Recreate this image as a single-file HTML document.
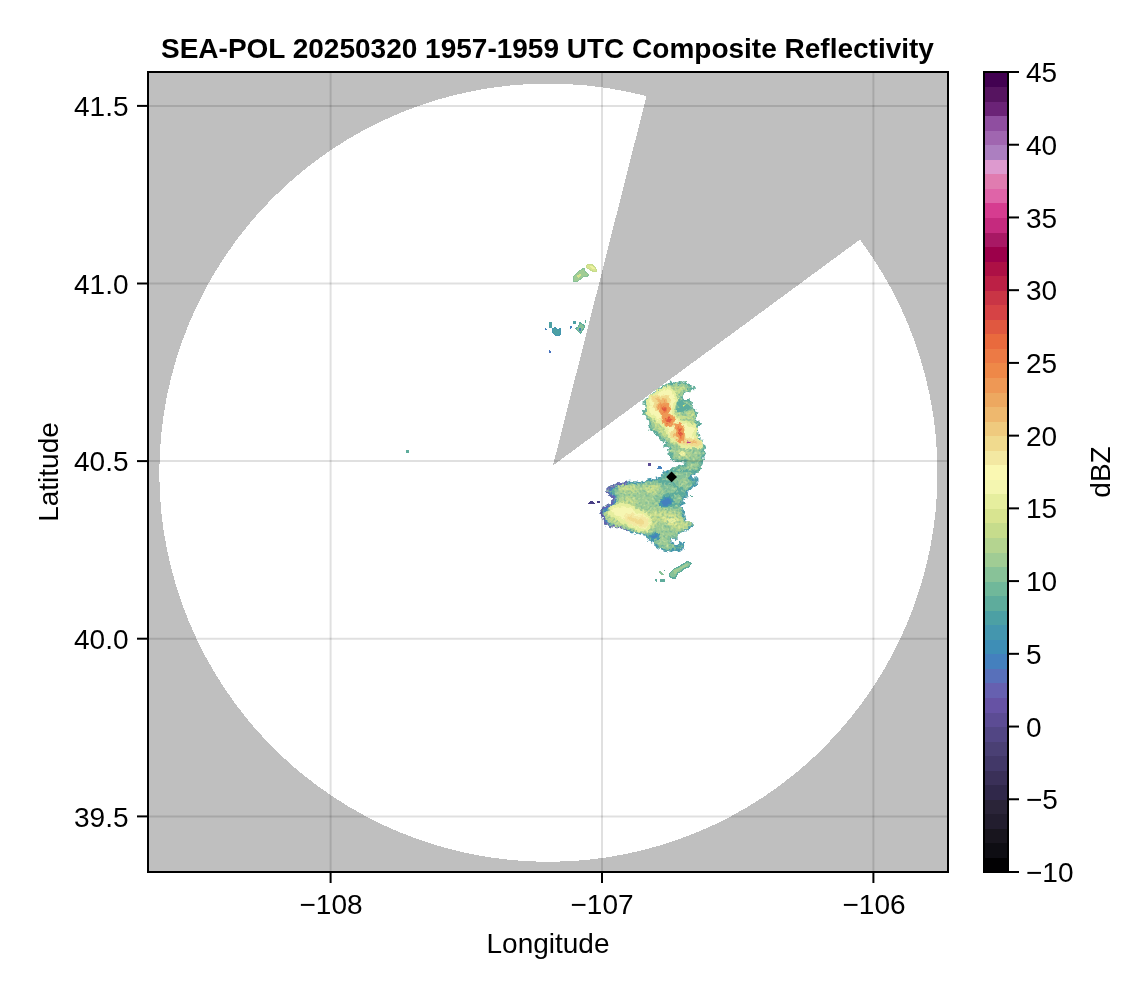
<!DOCTYPE html>
<html><head><meta charset="utf-8">
<style>
html,body{margin:0;padding:0;background:#fff;}
body{width:1146px;height:990px;position:relative;overflow:hidden;font-family:"Liberation Sans",sans-serif;color:#000;}
.t{position:absolute;white-space:nowrap;line-height:1;font-size:28px;will-change:transform;}
svg{position:absolute;left:0;top:0;}
</style></head><body>
<svg width="1146" height="990" viewBox="0 0 1146 990">
<defs>
<clipPath id="pc"><rect x="148" y="72" width="800" height="800"/></clipPath>
<filter id="nz" filterUnits="userSpaceOnUse" x="535" y="255" width="195" height="340" color-interpolation-filters="sRGB"><feTurbulence type="fractalNoise" baseFrequency="0.32" numOctaves="2" seed="4" result="n"/><feDisplacementMap in="SourceGraphic" in2="n" scale="5.5" xChannelSelector="R" yChannelSelector="G" result="d"/><feTurbulence type="fractalNoise" baseFrequency="0.42" numOctaves="1" seed="11" result="m"/><feColorMatrix in="m" type="matrix" values="0 0 0 0 0.33  0 0 0 0 0.65  0 0 0 0 0.62  1.9 0 0 0 -0.92" result="mm"/><feComposite in="mm" in2="d" operator="in" result="mc"/><feColorMatrix in="m" type="matrix" values="0 0 0 0 0.93  0 0 0 0 0.96  0 0 0 0 0.66  0 1.8 0 0 -0.93" result="ll"/><feComposite in="ll" in2="d" operator="in" result="lc"/><feMerge><feMergeNode in="d"/><feMergeNode in="mc"/><feMergeNode in="lc"/></feMerge></filter>
<filter id="nz2" filterUnits="userSpaceOnUse" x="535" y="255" width="195" height="340" color-interpolation-filters="sRGB"><feTurbulence type="fractalNoise" baseFrequency="0.32" numOctaves="2" seed="4" result="n"/><feDisplacementMap in="SourceGraphic" in2="n" scale="5" xChannelSelector="R" yChannelSelector="G"/></filter>
</defs>
<!-- plot background gray -->
<rect x="148" y="72" width="800" height="800" fill="#bfbfbf"/>
<g clip-path="url(#pc)" shape-rendering="crispEdges">
<!-- white coverage: circle minus wedge -->
<circle cx="548.4" cy="472.7" r="389.1" fill="#fff"/>
<path fill="#bfbfbf" d="M553,465.4 L693.3,-88.7 L1300,-88.7 L1163,16.6 Z"/>
</g>
<g id="echo" clip-path="url(#pc)">
<g filter="url(#nz)">
<path d="M687.5,458.5 L684.7,464.9 L679.0,467.7 L670.5,470.5 L663.5,472.6 L660.6,477.6 L655.0,479.0 L647.9,480.4 L642.2,483.2 L636.6,482.5 L629.5,481.8 L622.4,483.9 L616.8,484.7 L610.4,486.8 L607.6,488.9 L607.6,492.4 L610.4,495.3 L613.9,498.1 L613.2,501.6 L610.4,504.5 L606.2,506.6 L602.6,508.7 L601.2,512.2 L603.3,516.5 L604.8,520.7 L606.2,524.3 L610.4,525.7 L615.4,527.1 L622.4,527.1 L628.1,529.9 L633.7,532.0 L640.8,533.5 L646.5,534.9 L647.9,539.1 L652.1,540.5 L655.0,544.8 L659.2,547.6 L664.9,549.7 L670.5,551.1 L676.2,549.0 L682.5,549.7 L683.3,544.1 L681.1,542.6 L679.0,546.2 L674.8,545.5 L670.5,541.9 L670.5,538.4 L674.1,537.7 L676.9,539.8 L676.2,534.9 L679.0,532.0 L684.7,530.6 L688.9,527.8 L693.2,524.3 L688.9,522.8 L684.7,520.7 L683.3,516.5 L684.0,512.2 L681.1,508.0 L679.7,504.5 L684.7,503.0 L681.1,501.6 L683.3,498.1 L687.5,495.3 L686.1,491.7 L690.3,488.9 L693.2,485.4 L696.7,483.9 L696.3,478.3 L693.2,480.4 L690.3,478.3 L693.2,474.0 L697.4,471.2 L700.2,465.6 L701.6,458.5 L704.5,452.8 L701.6,448.6 L670.5,448.6 L671.9,458.5Z" fill="#5EAC9C" stroke="#4496AE" stroke-width="2" stroke-linejoin="round"/>
<path d="M626.7,482.8 L622.4,483.9 L616.8,484.7 L610.4,486.8 L607.6,488.9 L607.6,492.4 L610.4,495.3 L613.9,498.1 L613.2,501.6 L610.4,504.5 L606.2,506.6 L602.6,508.7 L601.2,512.2 L603.3,516.5 L604.8,520.7 L606.2,524.3 L610.4,525.7 L615.4,527.1 L622.4,527.1 L628.1,529.9" fill="none" stroke="#6660B0" stroke-width="2.2"/>
<path d="M626.7,484.5 L622.4,485.6 L617.1,486.5 L611.8,488.5 L609.7,490.3 L610.0,492.1 L612.8,495.0 L616.1,498.1 L615.4,502.1 L611.8,505.4 L607.6,507.7 L604.3,510.1 L603.3,512.2 L605.2,516.5 L606.6,520.7 L608.0,522.8 L611.1,524.0 L615.4,525.2 L622.4,525.4" fill="none" stroke="#4480BE" stroke-width="2"/>
<path d="M615.4,490.3 L622.4,487.1 L629.5,484.7 L639.4,485.4 L647.9,483.2 L656.4,481.8 L662.0,485.4 L664.9,492.4 L660.6,496.7 L659.2,502.3 L664.9,509.4 L673.4,508.0 L679.0,506.6 L681.1,512.2 L682.5,520.7 L690.3,523.6 L684.7,529.2 L677.6,531.3 L674.8,536.3 L669.1,537.7 L669.1,543.4 L673.4,547.6 L667.7,549.0 L660.6,546.2 L655.0,541.9 L659.2,534.9 L650.7,533.5 L643.6,532.7 L636.6,531.3 L628.1,528.5 L621.0,525.7 L612.5,524.3 L608.3,519.3 L606.2,512.9 L611.1,508.0 L616.8,504.5 L618.2,496.7Z" fill="#A0CC94" stroke="#88C298" stroke-width="2.5" stroke-linejoin="round"/>
<path d="M671.9,472.6 L681.8,468.4 L691.7,465.6 L696.0,458.5 L700.2,454.2 L697.4,464.1 L693.2,471.2 L688.9,478.3 L691.7,485.4 L684.7,491.0 L679.0,485.4 L673.4,482.5 L670.5,478.3Z" fill="#88C298"/>
<path d="M679.0,480.4 L684.7,478.3 L688.9,482.5 L686.1,486.8 L681.1,486.1Z" fill="#A0CC94"/>
<path d="M687.5,454.2 L693.2,451.4 L698.8,452.8 L697.4,458.5 L691.7,459.9Z" fill="#A0CC94"/>
<path d="M608.3,509.4 L616.8,503.7 L625.3,496.7 L633.7,498.1 L636.6,502.3 L632.3,506.6 L639.4,509.4 L647.9,512.2 L659.2,509.4 L667.7,510.8 L679.0,513.6 L683.3,520.7 L690.3,523.6 L684.7,529.2 L677.6,530.6 L670.5,526.4 L664.9,520.7 L656.4,523.6 L652.1,529.2 L646.5,532.0 L636.6,530.6 L626.7,527.1 L616.8,525.0 L608.3,520.7 L604.8,515.1Z" fill="#C6DC8C" stroke="#B4D490" stroke-width="2.5" stroke-linejoin="round"/>
<path d="M618.2,486.8 L626.7,485.1 L636.6,486.8 L638.0,491.0 L629.5,492.4 L621.0,491.0Z" fill="#C6DC8C" stroke="#B4D490" stroke-width="2" stroke-linejoin="round"/>
<path d="M643.6,486.8 L653.6,483.7 L659.2,486.8 L656.4,492.4 L647.9,493.8Z" fill="#C6DC8C" stroke="#B4D490" stroke-width="2" stroke-linejoin="round"/>
<path d="M664.9,517.9 L671.9,516.5 L677.6,519.3 L676.2,523.6 L669.1,523.6 L664.9,520.7Z" fill="#E6EE9E" stroke="#D8E490" stroke-width="3" stroke-linejoin="round"/>
<path d="M679.0,450.7 L684.7,450.0 L687.5,452.8 L684.7,455.7 L679.7,455.0Z" fill="#F6F6B2" stroke="#E6EE9E" stroke-width="3" stroke-linejoin="round"/>
<path d="M664.9,475.5 L671.9,473.3 L676.2,476.2 L673.4,480.4 L666.3,480.4Z" fill="#88C298"/>
<path d="M663.5,485.4 L670.5,483.9 L676.2,488.2 L673.4,493.8 L666.3,492.4Z" fill="#88C298"/>
<path d="M673.4,496.7 L679.0,493.8 L681.8,498.1 L679.0,503.7 L674.1,502.3Z" fill="#88C298"/>
<path d="M653.6,496.7 L659.2,495.3 L660.6,499.5 L656.4,502.3Z" fill="#88C298"/>
<path d="M643.7,401.3 L646.3,398.8 L652.3,395.3 L655.4,391.7 L660.4,388.7 L663.4,386.2 L668.5,384.1 L670.5,382.6 L676.6,384.1 L679.6,382.1 L681.6,383.1 L684.6,382.1 L686.7,383.6 L690.7,386.2 L693.7,388.2 L692.2,389.7 L689.7,391.2 L687.7,389.7 L684.6,391.7 L681.6,395.3 L680.6,397.8 L683.1,399.8 L688.7,400.3 L690.7,402.3 L691.9,405.4 L690.2,407.9 L694.7,410.4 L695.8,412.4 L697.0,414.4 L695.3,416.0 L694.7,418.5 L695.8,420.5 L697.3,422.0 L700.0,423.0 L698.3,425.1 L696.8,426.6 L696.5,430.6 L697.8,433.6 L698.3,435.2 L696.8,437.2 L697.3,439.2 L700.8,439.2 L701.6,440.7 L701.3,444.2 L704.6,446.3 L704.3,448.3 L702.8,450.8 L704.0,453.3 L702.3,456.9 L702.0,461.4 L700.8,464.9 L699.8,467.5 L697.8,471.0 L669.5,471.0 L672.5,468.5 L676.6,467.5 L680.6,466.5 L684.6,464.9 L686.7,462.4 L684.6,461.4 L676.6,460.9 L672.5,459.4 L671.5,456.9 L669.5,453.8 L670.0,450.8 L668.5,447.8 L665.5,445.3 L667.0,443.7 L666.5,439.7 L664.4,438.7 L662.9,441.2 L660.9,439.7 L660.4,436.7 L657.4,434.6 L654.3,431.6 L650.8,429.6 L649.8,428.1 L650.3,425.1 L650.3,421.5 L647.8,419.0 L646.3,417.0 L644.2,414.4 L643.2,411.9 L646.3,409.9 L645.8,407.4 L644.7,403.3Z" fill="#88C298" stroke="#5EAC9C" stroke-width="2.2" stroke-linejoin="round"/>
<path d="M647.3,402.3 L653.3,396.8 L660.4,390.7 L667.5,386.2 L672.5,385.2 L680.6,385.2 L688.7,387.2 L684.6,390.2 L679.6,395.3 L676.6,400.3 L675.1,405.4 L676.6,412.4 L684.6,414.4 L692.7,413.4 L693.7,417.5 L694.7,422.5 L695.3,430.6 L695.8,438.7 L699.8,440.7 L700.8,445.8 L699.8,448.3 L690.7,449.3 L680.6,448.3 L674.5,445.8 L670.5,442.7 L668.5,440.7 L663.4,436.7 L659.4,432.6 L654.3,428.6 L652.3,422.5 L649.3,416.5 L646.8,412.4 L648.3,408.4Z" fill="#C6DC8C" stroke="#A0CC94" stroke-width="2.5" stroke-linejoin="round"/>
<path d="M670.5,447.8 L680.6,449.8 L690.7,450.3 L699.8,449.8 L700.8,453.8 L698.8,458.9 L692.7,460.9 L684.6,459.9 L676.6,458.9 L673.0,454.8Z" fill="#A0CC94"/>
<path d="M676.6,450.8 L684.6,451.3 L690.7,452.8 L689.7,456.9 L682.6,457.9 L677.6,455.9Z" fill="#B4D490"/>
<path d="M690.7,463.9 L696.8,462.4 L699.3,464.4 L696.8,468.5 L690.7,469.5 L684.6,468.5Z" fill="#A0CC94"/>
<path d="M686.7,412.4 L692.7,410.9 L695.3,414.4 L692.7,417.5 L687.7,417.0Z" fill="#C6DC8C" stroke="#B4D490" stroke-width="2" stroke-linejoin="round"/>
</g >
<g filter="url(#nz2)">
<path d="M611.4,507.3 L622.4,504.5 L630.2,505.9 L637.3,511.5 L644.4,512.9 L649.0,517.6 L650.4,523.8 L647.2,530.1 L639.4,530.1 L630.6,526.1 L624.6,521.9 L616.1,517.6 L609.4,512.9Z" fill="#F6F6B2" stroke="#E6EE9E" stroke-width="3" stroke-linejoin="round"/>
<path d="M625.3,516.5 L630.9,514.4 L636.6,517.9 L642.2,516.5 L646.5,520.7 L646.5,525.0 L640.8,526.4 L633.7,523.6 L626.7,520.7Z" fill="#F0DA8E" stroke="#F3E8A2" stroke-width="3" stroke-linejoin="round"/>
<path d="M660.6,501.6 L664.9,498.1 L670.5,497.4 L672.6,501.6 L670.5,504.5 L664.9,507.3 L661.3,505.9Z" fill="#4480BE" stroke="#4496AE" stroke-width="2" stroke-linejoin="round"/>
<path d="M650.7,535.6 L656.4,532.7 L658.5,534.9 L657.8,537.7 L652.8,539.4Z" fill="#4480BE" stroke="#4496AE" stroke-width="2" stroke-linejoin="round"/>
<path d="M649.3,397.3 L653.3,395.3 L660.4,390.2 L667.5,387.2 L672.5,390.2 L675.1,395.3 L676.6,400.3 L674.5,404.3 L672.5,410.4 L674.5,415.5 L676.6,418.5 L682.6,421.5 L690.7,424.5 L694.7,426.6 L695.8,430.6 L693.7,434.6 L696.8,438.7 L700.8,442.7 L701.8,445.8 L697.8,446.8 L690.7,446.8 L685.7,447.8 L680.6,444.7 L676.6,440.7 L670.5,438.7 L667.5,432.6 L665.5,426.6 L660.4,422.5 L655.4,418.5 L649.3,414.4 L647.3,410.4 L649.3,405.4 L647.3,401.3Z" fill="#F6F6B2" stroke="#E6EE9E" stroke-width="3" stroke-linejoin="round"/>
<path d="M652.3,396.3 L660.4,397.3 L667.5,396.8 L668.5,400.3 L669.5,405.4 L668.5,412.4 L672.5,417.5 L673.5,422.5 L678.6,424.5 L682.6,428.6 L683.6,434.6 L684.6,439.7 L690.7,439.7 L695.8,439.7 L699.8,443.7 L696.8,445.3 L690.7,443.7 L684.6,444.7 L680.6,442.7 L677.6,438.7 L671.5,436.7 L671.5,433.6 L674.5,431.6 L676.6,426.6 L670.5,424.5 L665.5,422.5 L661.4,420.5 L662.4,415.5 L660.4,410.4 L655.4,408.4 L654.3,404.3 L657.4,402.3 L653.3,399.3Z" fill="#EEB86E" stroke="#F0DA8E" stroke-width="3" stroke-linejoin="round"/>
<path d="M659.9,405.4 L666.0,403.8 L669.0,408.4 L667.5,413.9 L662.9,414.4 L659.9,410.4Z" fill="#EC7A45" stroke="#EE9855" stroke-width="3" stroke-linejoin="round"/>
<path d="M662.4,407.9 L665.5,407.2 L666.3,409.9 L664.4,411.6 L662.4,410.4Z" fill="#E05840"/>
<path d="M663.4,417.0 L668.5,414.9 L673.5,418.5 L672.5,423.5 L667.5,425.1 L663.4,421.5Z" fill="#EC7A45" stroke="#EE9855" stroke-width="3" stroke-linejoin="round"/>
<path d="M666.0,418.5 L669.5,417.5 L671.0,420.0 L669.5,422.5 L666.7,422.0Z" fill="#E05840"/>
<path d="M675.6,424.0 L681.1,425.6 L683.4,432.6 L682.8,439.7 L679.4,440.7 L677.8,434.6 L676.4,429.6Z" fill="#EC7A45" stroke="#EE9855" stroke-width="3" stroke-linejoin="round"/>
<path d="M678.6,428.6 L680.6,429.6 L681.6,434.6 L680.6,437.7 L679.4,434.6Z" fill="#E05840"/>
<path d="M686.2,440.5 L689.2,440.7 L689.7,442.9 L686.7,443.2Z" fill="#B83A90"/>
<path d="M676.6,402.3 L679.6,400.3 L682.6,401.3 L684.6,403.3 L688.7,403.3 L689.7,407.4 L687.7,410.4 L684.6,411.4 L680.6,411.9 L676.6,410.4 L676.1,407.4 L678.6,406.4 L676.6,404.3Z" fill="#5EAC9C"/>
<path d="M682.8,404.8 L684.6,404.3 L684.6,406.4 L683.1,406.6Z" fill="#E6EE70"/>
<path d="M681.1,452.3 L683.6,451.8 L684.6,453.8 L682.6,455.4 L680.9,454.3Z" fill="#F6F6B2" stroke="#E6EE9E" stroke-width="2" stroke-linejoin="round"/>
</g >
<g shape-rendering="crispEdges">
<path d="M588.2,503.5 L592.0,500.2 L595.3,503.5Z" fill="#483E84"/>
<path d="M597.3,500.5 L599.5,500.5 L599.5,502.8 L597.3,502.8Z" fill="#483E84"/>
<path d="M648.3,463.4 L650.7,463.4 L650.7,465.6 L648.3,465.6Z" fill="#5C4C94"/>
<path d="M657.1,468.7 L659.2,465.3 L661.8,467.0 L662.0,468.7Z" fill="#4480BE"/>
<path d="M690.3,495.0 L693.9,497.4 L690.6,497.1Z" fill="#5EAC9C"/>
<path d="M669.8,573.1 L674.1,568.8 L679.0,566.7 L684.7,563.2 L687.5,561.3 L691.0,563.2 L688.9,566.7 L684.0,568.8 L681.1,571.6 L677.6,573.1 L675.5,578.0 L671.9,578.0 L669.4,575.9Z" fill="#88C298" stroke="#5EAC9C" stroke-width="1.2" stroke-linejoin="round"/>
<path d="M673.4,570.2 L679.0,568.1 L686.1,563.9 L688.2,563.9 L684.7,567.4 L679.0,570.2 L674.8,574.5Z" fill="#A0CC94"/>
<path d="M658.5,571.9 L660.3,570.9 L663.7,574.5 L662.0,575.6Z" fill="#88C298"/>
<path d="M663.5,569.5 L664.9,569.5 L664.9,571.1 L663.5,571.1Z" fill="#5EAC9C"/>
<path d="M655.0,579.4 L657.1,579.4 L657.1,582.5 L655.7,581.5Z" fill="#5EAC9C"/>
<path d="M659.9,579.4 L664.9,579.4 L664.6,582.2 L660.3,582.5Z" fill="#5EAC9C"/>
<path d="M573.0,277.3 L576.1,273.6 L579.7,270.6 L583.9,268.2 L585.2,271.8 L588.2,274.2 L587.9,276.4 L583.3,276.9 L580.3,279.1 L577.3,281.8 L573.3,281.5Z" fill="#A0CC94" stroke="#88C298" stroke-width="1" stroke-linejoin="round"/>
<path d="M576.7,276.1 L579.7,273.6 L581.5,275.5 L578.5,277.9Z" fill="#D8E490"/>
<path d="M586.0,265.8 L588.2,264.3 L591.8,264.5 L594.8,267.0 L596.4,269.4 L596.1,271.8 L593.0,271.2 L589.4,269.4 L586.7,267.9Z" fill="#D8E490" stroke="#C6DC8C" stroke-width="1" stroke-linejoin="round"/>
<path d="M590.0,265.8 L593.0,266.4 L594.8,268.8 L592.4,269.4Z" fill="#EEF2A0"/>
<path d="M549.4,321.5 L551.6,321.5 L551.6,327.6 L549.4,327.6Z" fill="#4CA0A4"/>
<path d="M544.3,329.4 L545.5,327.6 L546.7,329.8Z" fill="#4480BE"/>
<path d="M552.4,328.8 L554.8,327.3 L557.3,329.4 L560.9,328.5 L560.9,334.2 L558.5,335.5 L555.5,335.5 L553.0,333.0Z" fill="#4CA0A4" stroke="#4496AE" stroke-width="1" stroke-linejoin="round"/>
<path d="M573.0,321.3 L575.8,321.3 L575.8,323.7 L573.0,323.7Z" fill="#4CA0A4"/>
<path d="M570.0,326.1 L571.8,326.1 L571.8,327.6 L570.2,329.4Z" fill="#4480BE"/>
<path d="M575.5,328.8 L578.5,326.4 L579.7,322.5 L582.1,323.9 L584.5,325.8 L583.9,328.8 L582.1,330.6 L580.3,333.6 L578.5,331.2Z" fill="#88C298" stroke="#5EAC9C" stroke-width="1" stroke-linejoin="round"/>
<path d="M578.5,328.2 L580.9,328.2 L580.9,330.6 L578.5,330.6Z" fill="#4480BE"/>
<path d="M584.8,320.3 L586.0,320.3 L586.0,322.7 L584.8,322.7Z" fill="#5EAC9C"/>
<path d="M549.2,350.0 L551.8,351.8 L549.2,353.6Z" fill="#4470BE"/>
<rect x="405.5" y="450" width="3" height="2.5" fill="#5EAC9C"/>
</g >
</g>
<!-- gridlines -->
<g stroke="#000" stroke-opacity="0.12" stroke-width="2">
<line x1="330.6" y1="72" x2="330.6" y2="872"/><line x1="602" y1="72" x2="602" y2="872"/><line x1="873.4" y1="72" x2="873.4" y2="872"/>
<line x1="148" y1="105.9" x2="948" y2="105.9"/><line x1="148" y1="283.5" x2="948" y2="283.5"/><line x1="148" y1="461.1" x2="948" y2="461.1"/><line x1="148" y1="638.7" x2="948" y2="638.7"/><line x1="148" y1="816.4" x2="948" y2="816.4"/>
</g>
<!-- marker -->
<path d="M671.6,471.5 L677,476.9 L671.6,482.3 L666.2,476.9 Z" fill="#000"/>
<!-- ticks -->
<g stroke="#000" stroke-width="2">
<line x1="137" y1="105.9" x2="147" y2="105.9"/><line x1="137" y1="283.5" x2="147" y2="283.5"/><line x1="137" y1="461.1" x2="147" y2="461.1"/><line x1="137" y1="638.7" x2="147" y2="638.7"/><line x1="137" y1="816.4" x2="147" y2="816.4"/>
<line x1="330.6" y1="873" x2="330.6" y2="883"/><line x1="602" y1="873" x2="602" y2="883"/><line x1="873.4" y1="873" x2="873.4" y2="883"/>
</g>
<!-- frame -->
<rect x="148" y="72" width="800" height="800" fill="none" stroke="#000" stroke-width="2"/>
<g id="cbar" shape-rendering="crispEdges">
<rect x="984" y="857.45" width="24" height="14.55" fill="#020103"/><rect x="984" y="842.91" width="24" height="15.05" fill="#0E0D13"/><rect x="984" y="828.36" width="24" height="15.05" fill="#18151E"/><rect x="984" y="813.82" width="24" height="15.05" fill="#221D2E"/><rect x="984" y="799.27" width="24" height="15.05" fill="#2A2438"/><rect x="984" y="784.73" width="24" height="15.05" fill="#30284A"/>
<rect x="984" y="770.18" width="24" height="15.05" fill="#3A3058"/><rect x="984" y="755.64" width="24" height="15.05" fill="#423868"/><rect x="984" y="741.09" width="24" height="15.05" fill="#4A4074"/><rect x="984" y="726.55" width="24" height="15.05" fill="#524684"/><rect x="984" y="712.00" width="24" height="15.05" fill="#5C4C94"/><rect x="984" y="697.45" width="24" height="15.05" fill="#6652A4"/>
<rect x="984" y="682.91" width="24" height="15.05" fill="#6660B0"/><rect x="984" y="668.36" width="24" height="15.05" fill="#5870BA"/><rect x="984" y="653.82" width="24" height="15.05" fill="#4480BE"/><rect x="984" y="639.27" width="24" height="15.05" fill="#3E8EB6"/><rect x="984" y="624.73" width="24" height="15.05" fill="#4496AE"/><rect x="984" y="610.18" width="24" height="15.05" fill="#4CA0A4"/>
<rect x="984" y="595.64" width="24" height="15.05" fill="#5EAC9C"/><rect x="984" y="581.09" width="24" height="15.05" fill="#70B89A"/><rect x="984" y="566.55" width="24" height="15.05" fill="#88C298"/><rect x="984" y="552.00" width="24" height="15.05" fill="#A0CC94"/><rect x="984" y="537.45" width="24" height="15.05" fill="#B4D490"/><rect x="984" y="522.91" width="24" height="15.05" fill="#C6DC8C"/>
<rect x="984" y="508.36" width="24" height="15.05" fill="#D8E490"/><rect x="984" y="493.82" width="24" height="15.05" fill="#E6EE9E"/><rect x="984" y="479.27" width="24" height="15.05" fill="#F4F6B0"/><rect x="984" y="464.73" width="24" height="15.05" fill="#FAF8B2"/><rect x="984" y="450.18" width="24" height="15.05" fill="#F3E8A2"/><rect x="984" y="435.64" width="24" height="15.05" fill="#F0DA8E"/>
<rect x="984" y="421.09" width="24" height="15.05" fill="#EFCA7E"/><rect x="984" y="406.55" width="24" height="15.05" fill="#EEB86E"/><rect x="984" y="392.00" width="24" height="15.05" fill="#EDA860"/><rect x="984" y="377.45" width="24" height="15.05" fill="#EE9855"/><rect x="984" y="362.91" width="24" height="15.05" fill="#EE8848"/><rect x="984" y="348.36" width="24" height="15.05" fill="#EC7A45"/>
<rect x="984" y="333.82" width="24" height="15.05" fill="#E96A3D"/><rect x="984" y="319.27" width="24" height="15.05" fill="#E05840"/><rect x="984" y="304.73" width="24" height="15.05" fill="#D64345"/><rect x="984" y="290.18" width="24" height="15.05" fill="#C93545"/><rect x="984" y="275.64" width="24" height="15.05" fill="#BC2045"/><rect x="984" y="261.09" width="24" height="15.05" fill="#AD1045"/>
<rect x="984" y="246.55" width="24" height="15.05" fill="#9C004A"/><rect x="984" y="232.00" width="24" height="15.05" fill="#A81864"/><rect x="984" y="217.45" width="24" height="15.05" fill="#C52A7E"/><rect x="984" y="202.91" width="24" height="15.05" fill="#D63C90"/><rect x="984" y="188.36" width="24" height="15.05" fill="#DF64A8"/><rect x="984" y="173.82" width="24" height="15.05" fill="#E07CB0"/>
<rect x="984" y="159.27" width="24" height="15.05" fill="#DD9ACF"/><rect x="984" y="144.73" width="24" height="15.05" fill="#AC7FC0"/><rect x="984" y="130.18" width="24" height="15.05" fill="#A066B0"/><rect x="984" y="115.64" width="24" height="15.05" fill="#8F4EA0"/><rect x="984" y="101.09" width="24" height="15.05" fill="#6B2377"/><rect x="984" y="86.55" width="24" height="15.05" fill="#561460"/>
<rect x="984" y="72.00" width="24" height="15.05" fill="#420151"/>
</g>
<rect x="984" y="72" width="24" height="800" fill="none" stroke="#000" stroke-width="2"/>
<g stroke="#000" stroke-width="2"><line x1="1009" y1="872.00" x2="1019" y2="872.00"/><line x1="1009" y1="799.27" x2="1019" y2="799.27"/><line x1="1009" y1="726.55" x2="1019" y2="726.55"/><line x1="1009" y1="653.82" x2="1019" y2="653.82"/><line x1="1009" y1="581.09" x2="1019" y2="581.09"/><line x1="1009" y1="508.36" x2="1019" y2="508.36"/><line x1="1009" y1="435.64" x2="1019" y2="435.64"/><line x1="1009" y1="362.91" x2="1019" y2="362.91"/><line x1="1009" y1="290.18" x2="1019" y2="290.18"/><line x1="1009" y1="217.45" x2="1019" y2="217.45"/><line x1="1009" y1="144.73" x2="1019" y2="144.73"/><line x1="1009" y1="72.00" x2="1019" y2="72.00"/></g>
</svg>
<div class="t" style="left:161px;top:35px;font-weight:bold;">SEA-POL 20250320 1957-1959 UTC Composite Reflectivity</div>
<div class="t" style="right:1018px;top:93.0px;">41.5</div>
<div class="t" style="right:1018px;top:271.0px;">41.0</div>
<div class="t" style="right:1018px;top:448.0px;">40.5</div>
<div class="t" style="right:1018px;top:625.5px;">40.0</div>
<div class="t" style="right:1018px;top:803.5px;">39.5</div>
<div class="t" style="left:230.5px;top:891px;width:200px;text-align:center;">−108</div>
<div class="t" style="left:502.0px;top:891px;width:200px;text-align:center;">−107</div>
<div class="t" style="left:774.0px;top:891px;width:200px;text-align:center;">−106</div>
<div class="t" style="left:1026px;top:859.0px;">−10</div>
<div class="t" style="left:1026px;top:786.3px;">−5</div>
<div class="t" style="left:1026px;top:713.5px;">0</div>
<div class="t" style="left:1026px;top:640.8px;">5</div>
<div class="t" style="left:1026px;top:568.1px;">10</div>
<div class="t" style="left:1026px;top:495.4px;">15</div>
<div class="t" style="left:1026px;top:422.6px;">20</div>
<div class="t" style="left:1026px;top:349.9px;">25</div>
<div class="t" style="left:1026px;top:277.2px;">30</div>
<div class="t" style="left:1026px;top:204.5px;">35</div>
<div class="t" style="left:1026px;top:131.7px;">40</div>
<div class="t" style="left:1026px;top:59.0px;">45</div>
<div class="t" style="left:448px;top:930px;width:200px;text-align:center;">Longitude</div>
<div class="t" style="left:-51px;top:458px;width:200px;text-align:center;transform:rotate(-90deg);">Latitude</div>
<div class="t" style="left:1001px;top:458px;width:200px;text-align:center;transform:rotate(-90deg);">dBZ</div>
</body></html>
